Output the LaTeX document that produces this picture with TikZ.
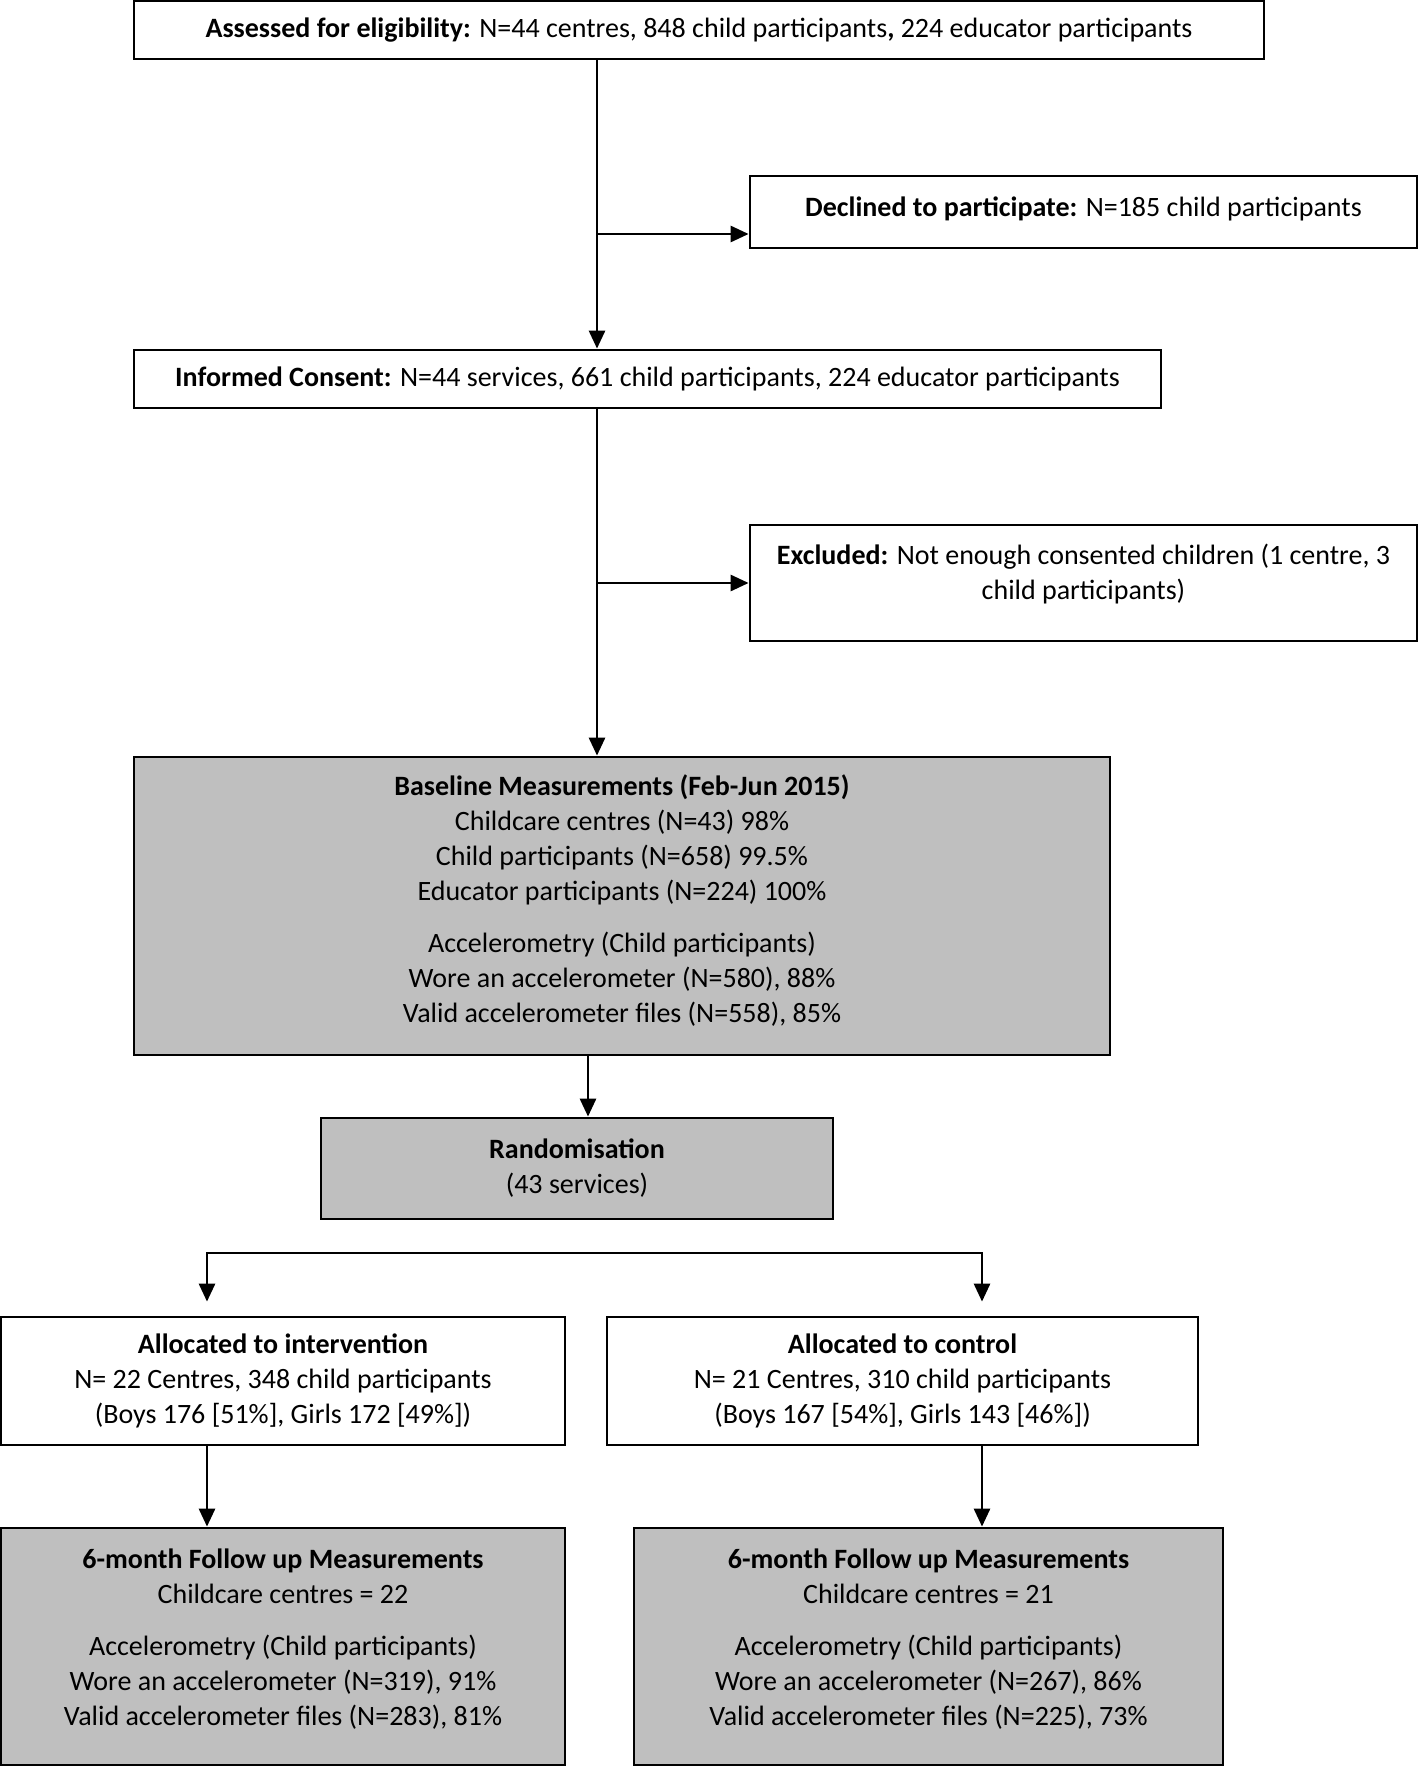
\documentclass[tikz,border=0pt]{standalone}
\usepackage{fontspec}
\setmainfont{Carlito}
\usetikzlibrary{positioning}
\usetikzlibrary{arrows.meta}
\definecolor{boxgrey}{RGB}{191,191,191}
\tikzset{
  % plain step of the flow
  box/.style={draw, line width=2.8pt, inner sep=0pt, align=center,
    font=\fontsize{28}{35}\selectfont},
  % measurement steps
  measure/.style={box, fill=boxgrey},
  % connectors
  link/.style={line width=2.8pt, line cap=rect},
  flow/.style={line width=2.8pt, -{Triangle[width=16pt,length=18pt]}},
}

\begin{document}
\begin{tikzpicture}[x=1pt, y=-1pt]
  \useasboundingbox (0,0) rectangle (1419,1766);

  \node[box, minimum width=1130pt, minimum height=58pt] (assess) at (699,30)
    {\textbf{Assessed for eligibility:} N=44 centres, 848 child participants\textbf{,} 224 educator participants};
  \node[box, minimum width=667pt, minimum height=72pt] (declined) at (1083.5,212)
    {\raisebox{10pt}{\textbf{Declined to participate:} N=185 child participants}};
  \node[box, minimum width=1027pt, minimum height=58pt] (consent) at (647.5,379)
    {\textbf{Informed Consent:} N=44 services, 661 child participants, 224 educator participants};
  \node[box, minimum width=667pt, minimum height=116pt] (excl) at (1083.5,583)
    {\parbox[c][78pt][t]{640pt}{\centering\textbf{Excluded:} Not enough consented children (1 centre, 3\\ child participants)}};
  \node[measure, minimum width=976pt, minimum height=298pt] (baseline) at (622,906)
    {\parbox{900pt}{\vspace*{-10pt}\centering
     \textbf{Baseline Measurements (Feb-Jun 2015)}\\
     Childcare centres (N=43) 98\%\\
     Child participants (N=658) 99.5\%\\
     Educator participants (N=224) 100\%\\[17pt]
     Accelerometry (Child participants)\\
     Wore an accelerometer (N=580), 88\%\\
     Valid accelerometer files (N=558), 85\%}};
  \node[measure, minimum width=512pt, minimum height=101pt] (random) at (577,1168.5)
    {\textbf{Randomisation}\\(43 services)};
  \node[box, minimum width=564pt, minimum height=128pt] (interv) at (283,1381)
    {\textbf{Allocated to intervention}\\
     N= 22 Centres, 348 child participants\\
     (Boys 176 [51\%], Girls 172 [49\%])};
  \node[box, minimum width=591pt, minimum height=128pt] (control) at (902.5,1381)
    {\textbf{Allocated to control}\\
     N= 21 Centres, 310 child participants\\
     (Boys 167 [54\%], Girls 143 [46\%])};
  \node[measure, minimum width=564pt, minimum height=237pt] (fuL) at (283,1646.5)
    {\parbox[c][196pt][t]{540pt}{\centering
     \textbf{6-month Follow up Measurements}\\
     Childcare centres = 22\\[17pt]
     Accelerometry (Child participants)\\
     Wore an accelerometer (N=319), 91\%\\
     Valid accelerometer files (N=283), 81\%}};
  \node[measure, minimum width=589pt, minimum height=237pt] (fuR) at (928.5,1646.5)
    {\parbox[c][196pt][t]{560pt}{\centering
     \textbf{6-month Follow up Measurements}\\
     Childcare centres = 21\\[17pt]
     Accelerometry (Child participants)\\
     Wore an accelerometer (N=267), 86\%\\
     Valid accelerometer files (N=225), 73\%}};

  % trunk of the flow and its side exits
  \coordinate (trunk) at (597,0);
  \coordinate (mid) at (588,0);
  \path ([yshift=-22pt]declined.west) coordinate (declin);
  \draw[flow] (assess.south -| trunk) -- (consent.north -| trunk);
  \draw[flow] (declin -| trunk) -- (declin);
  \draw[flow] (consent.south -| trunk) -- (baseline.north -| trunk);
  \draw[flow] (excl.west -| trunk) -- (excl.west);
  \draw[flow] (baseline.south -| mid) -- (random.north -| mid);

  % split into the two arms
  \coordinate (splitL) at (207,1253);
  \coordinate (splitR) at (982,1253);
  \draw[link] (splitL) -- (splitR);
  \draw[flow, shorten >=14pt] (splitL) -- (interv.north -| splitL);
  \draw[flow, shorten >=14pt] (splitR) -- (control.north -| splitR);
  \draw[flow] (interv.south -| splitL) -- (fuL.north -| splitL);
  \draw[flow] (control.south -| splitR) -- (fuR.north -| splitR);
\end{tikzpicture}
\end{document}
